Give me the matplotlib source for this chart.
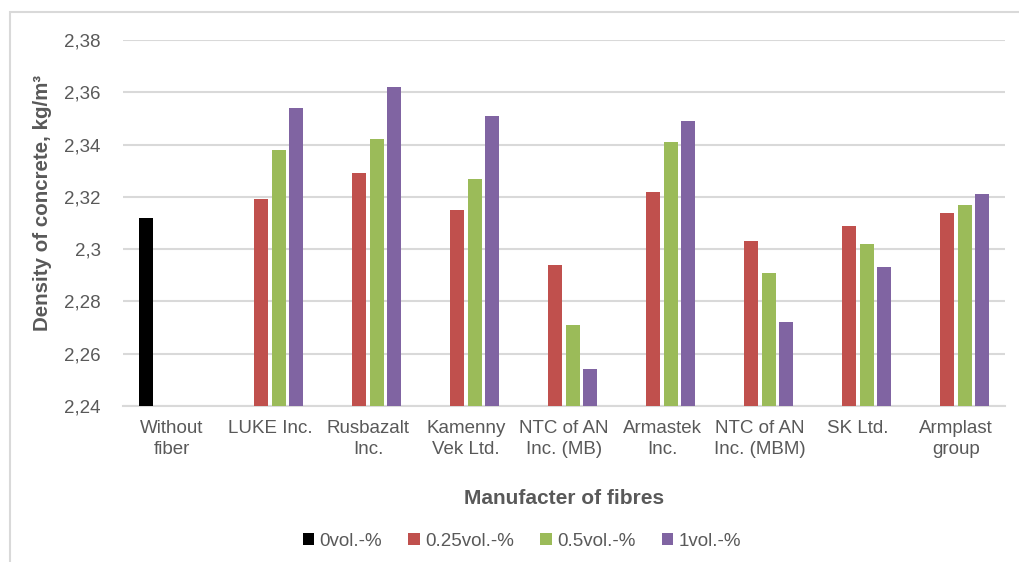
import numpy as np
import matplotlib
matplotlib.use("Agg")
import matplotlib.pyplot as plt
from matplotlib.patches import Rectangle
from matplotlib.ticker import FuncFormatter, MultipleLocator

# --- data ---
categories = ["Without\nfiber", "LUKE Inc.", "Rusbazalt\nInc.", "Kamenny\nVek Ltd.",
              "NTC of AN\nInc. (MB)", "Armastek\nInc.", "NTC of AN\nInc. (MBM)",
              "SK Ltd.", "Armplast\ngroup"]
series_names = ["0vol.-%", "0.25vol.-%", "0.5vol.-%", "1vol.-%"]
vol_0 = [2.312, np.nan, np.nan, np.nan, np.nan, np.nan, np.nan, np.nan, np.nan]
vol_025 = [np.nan, 2.319, 2.329, 2.315, 2.294, 2.322, 2.303, 2.309, 2.314]
vol_05 = [np.nan, 2.338, 2.342, 2.327, 2.271, 2.341, 2.291, 2.302, 2.317]
vol_1 = [np.nan, 2.354, 2.362, 2.351, 2.254, 2.349, 2.272, 2.293, 2.321]
colors = ["#000000", "#C0504D", "#9BBB59", "#8064A2"]

text_color = "#595959"
grid_color = "#D9D9D9"
plt.rcParams['font.family'] = ['Liberation Sans', 'DejaVu Sans']

fig = plt.figure(figsize=(10.19, 5.62), dpi=100)
ax = fig.add_axes([123/1019, 1 - 406/562, (1005 - 123)/1019, (406 - 40)/562])

x = np.arange(len(categories))
slot = 0.179
bw = 0.143
for i, (vals, name, c) in enumerate(zip([vol_0, vol_025, vol_05, vol_1], series_names, colors)):
    vals = np.array(vals, dtype=float)
    ok = ~np.isnan(vals)
    ax.bar(x[ok] + (i - 1.5) * slot, vals[ok] - 2.24, bottom=2.24, width=bw,
           color=c, label=name, zorder=3)

ax.set_xlim(-0.5, len(categories) - 0.5)
ax.set_ylim(2.24, 2.38)
ax.yaxis.set_major_locator(MultipleLocator(0.02))
ax.yaxis.set_major_formatter(FuncFormatter(lambda v, p: f"{round(v, 2):g}".replace('.', ',')))
ax.grid(axis='y', color=grid_color, linewidth=1.5, zorder=0)
for s in ['top', 'right', 'left']:
    ax.spines[s].set_visible(False)
ax.spines['bottom'].set_color(grid_color)
ax.spines['bottom'].set_linewidth(1.5)
ax.tick_params(axis='both', length=0, labelsize=13.5, labelcolor=text_color)
ax.tick_params(axis='y', pad=16)
ax.tick_params(axis='x', pad=10)
ax.set_xticks(x)
ax.set_xticklabels(categories, linespacing=1.35)

ax.set_ylabel("Density of concrete, kg/m³", fontsize=14.8, fontweight='bold',
              color=text_color)
ax.yaxis.set_label_coords(-0.081, 0.555)
ax.set_xlabel("Manufacter of fibres", fontsize=15, fontweight='bold',
              color=text_color, labelpad=22)

leg = fig.legend(loc='center', bbox_to_anchor=(522/1019, 1 - 541/562), ncol=4,
                 frameon=False, fontsize=13.5, handlelength=0.6, handleheight=0.6,
                 handletextpad=0.3, columnspacing=1.4)
for t in leg.get_texts():
    t.set_color(text_color)

# outer chart border
fig.patches.append(Rectangle((10/1019, -0.1), 1.1, 1 - 12/562 + 0.1,
                             transform=fig.transFigure, fill=False,
                             edgecolor=grid_color, linewidth=1.5))

fig.savefig("out.png", dpi=100)
